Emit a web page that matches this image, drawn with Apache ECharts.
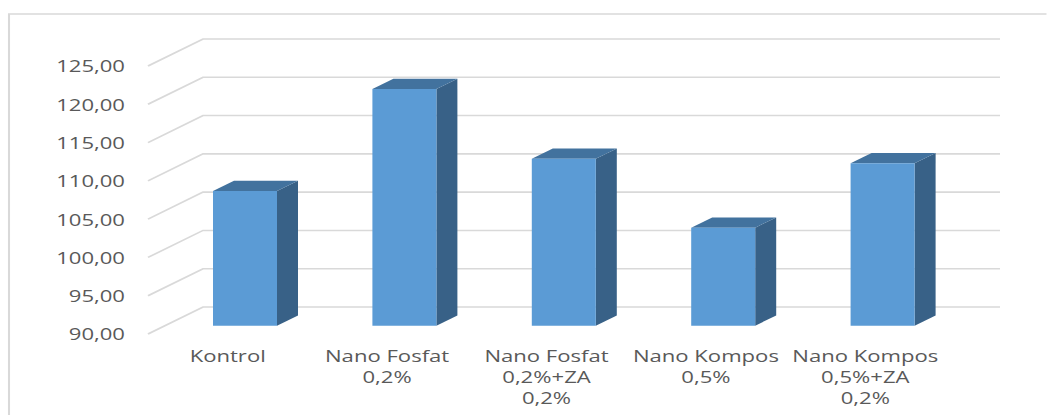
<!DOCTYPE html>
<html>
<head>
<meta charset="utf-8">
<script src="https://cdn.jsdelivr.net/npm/echarts@6/dist/echarts.min.js"></script>
<style>
  html, body { margin: 0; padding: 0; background: #fff; overflow: hidden; }
  /* the chart is laid out narrow and stretched horizontally */
  #chart { width: 805.4px; height: 415px; transform: scaleX(1.3); transform-origin: 0 0; }
</style>
</head>
<body>
<div id="chart"></div>
<script>
const S = 1.3; // horizontal stretch applied to the chart container

const categories = [
  'Kontrol',
  'Nano Fosfat\n0,2%',
  'Nano Fosfat\n0,2%+ZA\n0,2%',
  'Nano Kompos\n0,5%',
  'Nano Kompos\n0,5%+ZA\n0,2%'
];
const values = [107.6, 120.9, 111.8, 102.8, 111.2];
const yTicks = [90, 95, 100, 105, 110, 115, 120, 125];
const yTickLabels = ['90,00', '95,00', '100,00', '105,00', '110,00', '115,00', '120,00', '125,00'];

// depth of the 3D box (floor front edge -> back wall), in screen pixels
const WALL_DX = 55 / S, WALL_DY = 27;
// bar placement inside the depth, and bar size
const BAR_OFF_X = 17.3 / S, BAR_OFF_Y = 8.3;
const BAR_W = 64 / S, BAR_DX = 21 / S, BAR_DY = 10.3;

const textStyle = { color: '#595959', fontSize: 17, fontFamily: 'Open Sans' };

const chart = echarts.init(document.getElementById('chart'), null, { renderer: 'svg' });

chart.setOption({
  animation: false,
  backgroundColor: '#fff',
  graphic: [{
    type: 'rect',
    shape: { x: 9 / S, y: 14, width: 1200, height: 600 },
    style: { fill: null, stroke: '#d9d9d9', lineWidth: 1.6 },
    silent: true,
    z: 0
  }],
  grid: { left: 148 / S, top: 66, width: 797 / S, height: 268 },
  xAxis: {
    type: 'category',
    data: categories,
    axisLine: { show: false },
    axisTick: { show: false },
    splitLine: { show: false },
    axisLabel: Object.assign({ interval: 0, margin: 11, lineHeight: 21, hideOverlap: false }, textStyle)
  },
  yAxis: {
    type: 'value',
    min: 90,
    max: 125,
    interval: 5,
    axisLine: { show: false },
    axisTick: { show: false },
    splitLine: { show: false },
    axisLabel: Object.assign({
      margin: 23 / S,
      formatter: v => yTickLabels[yTicks.indexOf(v)]
    }, textStyle)
  },
  series: [
    {
      // gridlines: diagonal along the floor side, then across the back wall
      type: 'custom',
      silent: true,
      z: 1,
      data: yTicks.map(v => [0, v]),
      renderItem: (params, api) => {
        const cs = params.coordSys;
        const y = api.coord([0, api.value(1)])[1];
        return {
          type: 'polyline',
          shape: { points: [[cs.x, y], [cs.x + WALL_DX, y - WALL_DY], [cs.x + cs.width + WALL_DX, y - WALL_DY]] },
          style: { stroke: '#d9d9d9', lineWidth: 1.6, fill: null }
        };
      }
    },
    {
      // 3D columns
      type: 'custom',
      z: 2,
      data: values.map((v, i) => [i, v]),
      renderItem: (params, api) => {
        const top = api.coord([api.value(0), api.value(1)]);
        const base = api.coord([api.value(0), 90]);
        const x0 = top[0] + BAR_OFF_X - BAR_W / 2;
        const x1 = x0 + BAR_W;
        const yt = top[1] - BAR_OFF_Y;
        const yb = base[1] - BAR_OFF_Y;
        return {
          type: 'group',
          children: [
            {
              type: 'polygon',
              shape: { points: [[x1, yt], [x1 + BAR_DX, yt - BAR_DY], [x1 + BAR_DX, yb - BAR_DY], [x1, yb]] },
              style: { fill: '#386187' }
            },
            {
              type: 'polygon',
              shape: { points: [[x0, yt], [x1, yt], [x1 + BAR_DX, yt - BAR_DY], [x0 + BAR_DX, yt - BAR_DY]] },
              style: { fill: '#42729e' }
            },
            {
              type: 'rect',
              shape: { x: x0, y: yt, width: BAR_W, height: yb - yt },
              style: { fill: '#5b9bd5' }
            }
          ]
        };
      }
    }
  ]
});
</script>
</body>
</html>
